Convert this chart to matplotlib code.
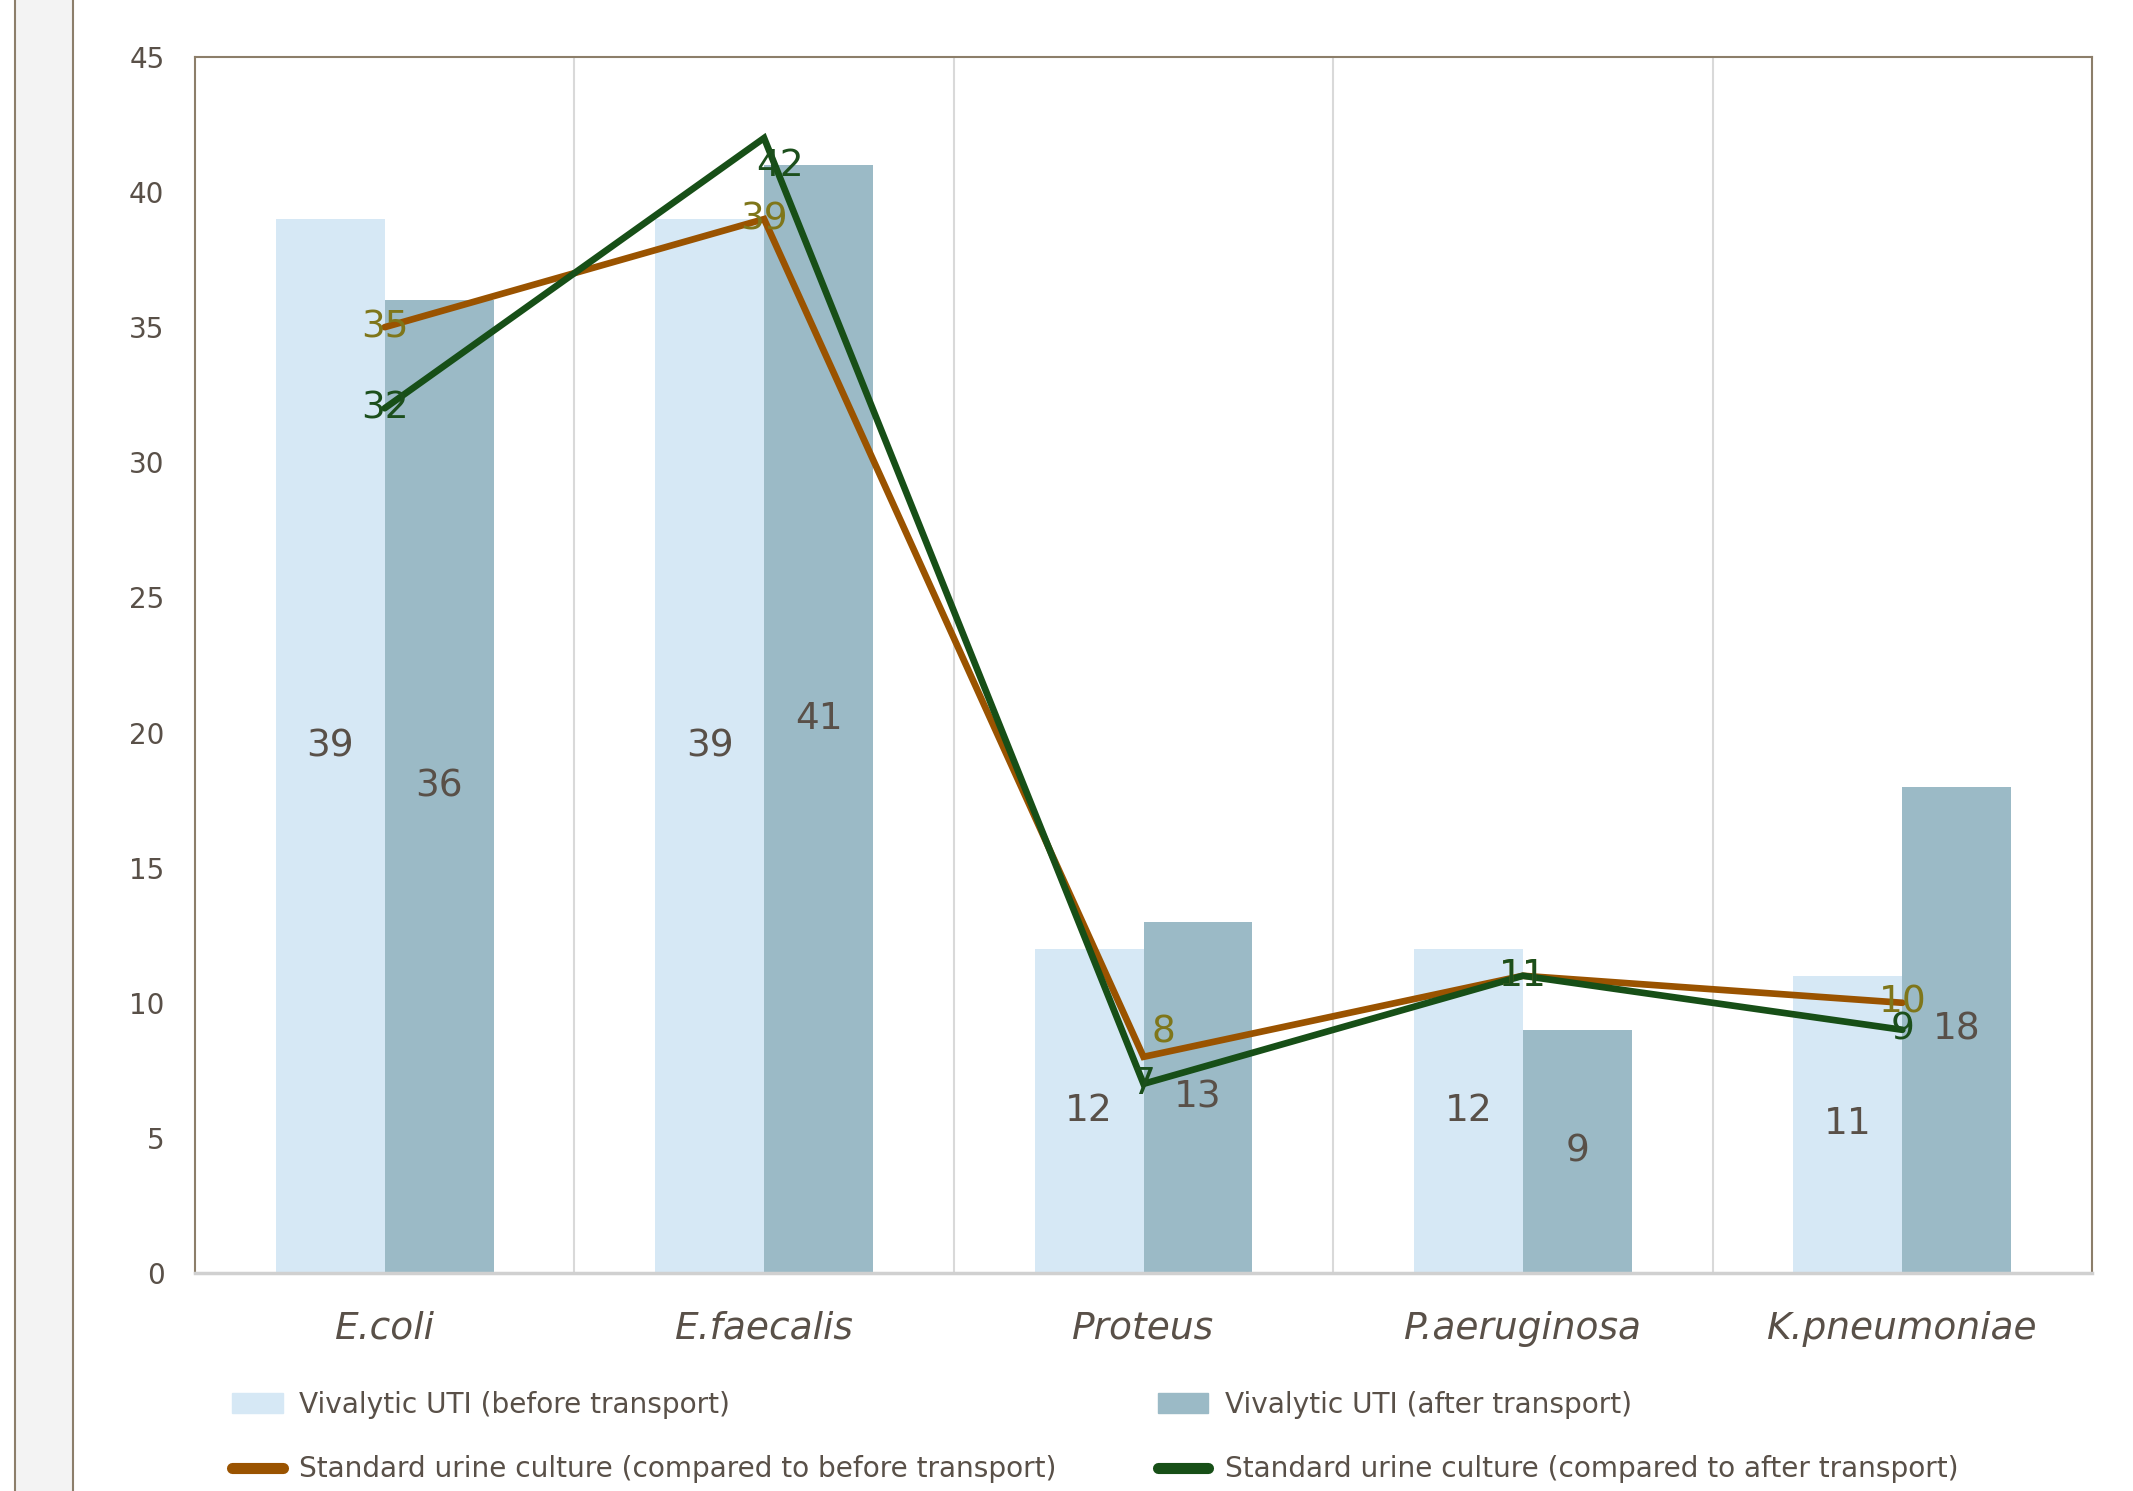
import matplotlib
matplotlib.use("Agg")
from matplotlib import pyplot as plt
from matplotlib.patches import Rectangle, Patch
from matplotlib.lines import Line2D
import numpy as np

categories = ["E.coli", "E.faecalis", "Proteus", "P.aeruginosa", "K.pneumoniae"]
vivalytic_before = [39, 39, 12, 12, 11]
vivalytic_after = [36, 41, 13, 9, 18]
standard_before = [35, 39, 8, 11, 10]
standard_after = [32, 42, 7, 11, 9]

TEXT = "#595048"
LIGHT = "#D6E8F5"
DARK = "#9BBAC6"
ORANGE = "#9A5300"
GREEN = "#174F17"
ORANGE_LBL = "#7F761A"
GREEN_LBL = "#1C4F1C"
FRAME = "#8C7E6A"

plt.rcParams["font.family"] = ["DejaVu Sans"]

fig = plt.figure(figsize=(21.33, 14.91), dpi=100)
ax = fig.add_axes([0.0914, 0.1462, 0.9808 - 0.0914, 0.9618 - 0.1462])

# grey strip down the left edge
fig.patches.append(Rectangle((15 / 2133, -0.01), 58 / 2133, 1.02, transform=fig.transFigure,
                             facecolor="#F3F3F3", edgecolor=FRAME, linewidth=1.5))

x = np.arange(len(categories))
w = 0.287

b1 = ax.bar(x - w / 2, vivalytic_before, width=w, color=LIGHT, zorder=2)
b2 = ax.bar(x + w / 2, vivalytic_after, width=w, color=DARK, zorder=2)

for bars in (b1, b2):
    for rect in bars:
        h = rect.get_height()
        ax.text(rect.get_x() + rect.get_width() / 2, h / 2, f"{h:g}", ha="center", va="center",
                fontsize=27, color=TEXT, zorder=5)

l1, = ax.plot(x, standard_before, color=ORANGE, lw=4.8, solid_capstyle="round",
              solid_joinstyle="miter", zorder=3)
l2, = ax.plot(x, standard_after, color=GREEN, lw=4.8, solid_capstyle="round",
              solid_joinstyle="miter", zorder=4)

# small nudges (pixels) where the labels were moved off the line
nudge_before = {2: (20, 24)}
nudge_after = {1: (16, -28)}
for series, col, nudge in ((standard_before, ORANGE_LBL, nudge_before),
                           (standard_after, GREEN_LBL, nudge_after)):
    for i, v in enumerate(series):
        dx, dy = nudge.get(i, (0, 0))
        ax.annotate(f"{v}", (x[i], v), xytext=(dx, dy), textcoords="offset pixels",
                    ha="center", va="center", fontsize=27, color=col, zorder=6)

ax.set_xlim(-0.5, len(categories) - 0.5)
ax.set_ylim(0, 45)
ax.set_yticks(range(0, 46, 5))
ax.set_xticks(x)
ax.set_xticklabels(categories, fontsize=27, style="italic", color=TEXT)
ax.tick_params(axis="y", length=0, pad=22, labelsize=20, labelcolor=TEXT)
ax.tick_params(axis="x", length=0, pad=27)

ax.set_xticks(x[:-1] + 0.5, minor=True)
ax.tick_params(axis="x", which="minor", length=0)
ax.grid(axis="x", which="minor", color="#D9D9D9", lw=1.5, zorder=0)
ax.grid(axis="x", which="major", visible=False)

for side in ("left", "top", "right"):
    ax.spines[side].set_color(FRAME)
    ax.spines[side].set_linewidth(1.5)
ax.spines["bottom"].set_color("#D0D0D0")
ax.spines["bottom"].set_linewidth(2.5)

handles = [
    Patch(color=LIGHT),
    Line2D([], [], color=ORANGE, lw=8, solid_capstyle="round"),
    Patch(color=DARK),
    Line2D([], [], color=GREEN, lw=8, solid_capstyle="round"),
]
labels = [
    "Vivalytic UTI (before transport)",
    "Standard urine culture (compared to before transport)",
    "Vivalytic UTI (after transport)",
    "Standard urine culture (compared to after transport)",
]
leg = fig.legend(handles, labels, ncol=2, loc="upper left", bbox_to_anchor=(232 / 2133, 1 - 1391 / 1491),
                 frameon=False, fontsize=20.2, handlelength=1.8, handleheight=0.7,
                 handletextpad=0.6, columnspacing=3.6, labelspacing=1.3, borderpad=0, borderaxespad=0)
for t in leg.get_texts():
    t.set_color(TEXT)

fig.savefig("out.png", dpi=100)
